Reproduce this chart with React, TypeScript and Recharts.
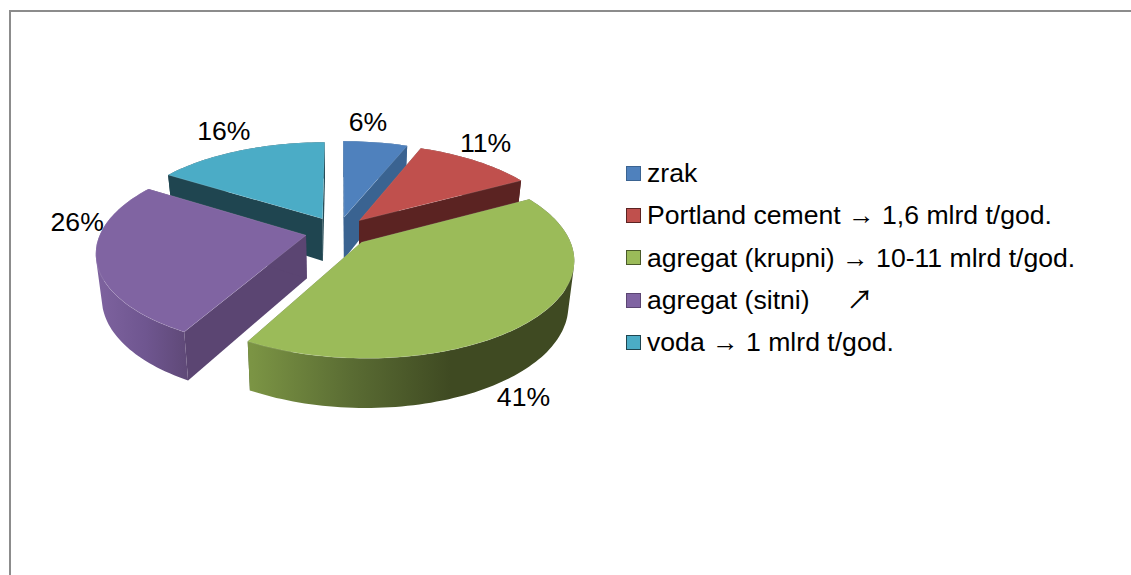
import { PieChart, Pie, Legend } from 'recharts'

const categories = [
  'zrak',
  'Portland cement → 1,6 mlrd t/god.',
  'agregat (krupni) → 10-11 mlrd t/god.',
  'agregat (sitni)     ↗',
  'voda → 1 mlrd t/god.',
]
const shares = [6, 11, 41, 26, 16]

const topColors = ['#4F81BD', '#C0504D', '#9BBB59', '#8064A2', '#4BACC6']
const wallColors = ['#3A6391', '#5B2322', '#4A5A2A', '#5B4572', '#1F4550']
const rimStops = [
  ['#3A6391', '#3A6391', '#3A6391'],
  ['#5B2322', '#5B2322', '#5B2322'],
  ['#7B9444', '#5A6C33', '#3F4A22'],
  ['#7D629E', '#6F5690', '#5E4876'],
  ['#1F4550', '#1F4550', '#1F4550'],
]
const rimRanges = [
  [340, 410],
  [360, 520],
  [252, 450],
  [100, 190],
  [170, 325],
]
// nudge from the rim midpoint to the label centre
const labelNudges = [
  [-7.5, -20],
  [10, -18],
  [-9, 77],
  [-19, -38],
  [-16, -20],
]
// slices painted last so they sit over the walls of the others
const backSlices = [0, 1, 4]
const frontSlices = [2, 3]

const chartData = categories.map((name, i) => ({ name, value: shares[i] }))

const PERSPECTIVE = 0.165
const SQUASH = 93
const EXPLODE = 0.16
const BOTTOM_SHRINK = 0.975

type Pt = [number, number]

function project(cx: number, cy: number, rx: number, u: number, v: number): Pt {
  const w = 1 + PERSPECTIVE * v
  return [cx + (rx * u) / w, cy - (SQUASH * v) / w]
}

function depthAt(v: number) {
  return 43 - 6 * v
}

function lower(cx: number, cy: number, rx: number, u: number, v: number): Pt {
  const [x, y] = project(cx, cy, rx, u, v)
  return [cx + (x - cx) * BOTTOM_SHRINK, y + depthAt(v)]
}

function toPath(points: Pt[]) {
  return 'M' + points.map((p) => `${p[0].toFixed(1)},${p[1].toFixed(1)}`).join('L') + 'Z'
}

// rim as one path of same-winding quads, so the side silhouette has no notch
function rimPath(topArc: Pt[], lowArc: Pt[]) {
  let d = ''
  for (let i = 0; i < topArc.length - 1; i++) {
    const quad: Pt[] = [topArc[i], topArc[i + 1], lowArc[i + 1], lowArc[i]]
    let area = 0
    quad.forEach((p, j) => {
      const q = quad[(j + 1) % 4]
      area += p[0] * q[1] - q[0] * p[1]
    })
    d += toPath(area < 0 ? [...quad].reverse() : quad)
  }
  return d
}

function renderSlice(props: any, allowed: number[]) {
  const idx = categories.indexOf(props.name)
  if (!allowed.includes(idx)) return <g />
  const { cx, cy, outerRadius: rx } = props
  // recharts angles run from 3 o'clock, the projection wants clock angles
  const from = ((90 - props.startAngle) * Math.PI) / 180
  const to = ((90 - props.endAngle) * Math.PI) / 180
  const mid = (from + to) / 2
  const ox = EXPLODE * Math.sin(mid)
  const oy = EXPLODE * Math.cos(mid)

  const steps = Math.max(8, Math.round((to - from) * 40))
  const arc: Pt[] = []
  for (let s = 0; s <= steps; s++) {
    const a = from + ((to - from) * s) / steps
    arc.push([ox + Math.sin(a), oy + Math.cos(a)])
  }
  const topArc = arc.map((p) => project(cx, cy, rx, p[0], p[1]))
  const lowArc = arc.map((p) => lower(cx, cy, rx, p[0], p[1]))
  const apexTop = project(cx, cy, rx, ox, oy)
  const apexLow = lower(cx, cy, rx, ox, oy)
  const last = topArc.length - 1
  const gradId = `rim-${idx}`
  const [x1, x2] = rimRanges[idx]
  const stops = rimStops[idx]

  return (
    <g>
      <linearGradient id={gradId} gradientUnits="userSpaceOnUse" x1={x1} x2={x2} y1={0} y2={0}>
        <stop offset="0%" stopColor={stops[0]} />
        <stop offset="50%" stopColor={stops[1]} />
        <stop offset="100%" stopColor={stops[2]} />
      </linearGradient>
      <path d={toPath([apexTop, topArc[0], lowArc[0], apexLow])} fill={wallColors[idx]} />
      <path d={toPath([apexTop, topArc[last], lowArc[last], apexLow])} fill={wallColors[idx]} />
      <path d={rimPath(topArc, lowArc)} fill={`url(#${gradId})`} />
      <path
        d={toPath([apexTop, ...topArc])}
        fill={topColors[idx]}
        stroke="#ffffff"
        strokeOpacity={0.12}
        strokeWidth={1}
      />
    </g>
  )
}

function renderLabel(props: any) {
  const idx = categories.indexOf(props.name)
  const { cx, cy, outerRadius: rx, midAngle, value } = props
  const a = ((90 - midAngle) * Math.PI) / 180
  const r = 1 + EXPLODE
  const [x, y] = project(cx, cy, rx, r * Math.sin(a), r * Math.cos(a))
  return (
    <text
      x={x + labelNudges[idx][0]}
      y={y + labelNudges[idx][1]}
      textAnchor="middle"
      dominantBaseline="central"
      fontSize={26.6}
      fill="#000000"
    >
      {value}%
    </text>
  )
}

function LegendList() {
  return (
    <div>
      {categories.map((name, i) => (
        <div key={name} style={{ height: 42.3, display: 'flex', alignItems: 'center', whiteSpace: 'pre' }}>
          <span
            style={{
              width: 13,
              height: 13,
              marginRight: 6,
              background: topColors[i],
              border: `1px solid ${wallColors[i]}`,
              flex: 'none',
            }}
          />
          <span style={{ fontSize: 26.6, lineHeight: '30px', height: 30, overflow: 'visible', color: '#000000' }}>
            {name}
          </span>
        </div>
      ))}
    </div>
  )
}

export default function App() {
  return (
    <div
      style={{
        position: 'absolute',
        left: 0,
        top: 0,
        width: 1131,
        height: 575,
        overflow: 'hidden',
        background: '#ffffff',
        fontFamily: '"Liberation Sans", "Noto Sans CJK JP", Arial, sans-serif',
      }}
    >
      <div
        style={{
          position: 'absolute',
          left: 9,
          top: 10,
          width: 1130,
          height: 570,
          borderTop: '2px solid #8c8c8c',
          borderLeft: '2px solid #8c8c8c',
        }}
      />
      <PieChart width={1131} height={575} margin={{ top: 0, right: 0, bottom: 0, left: 0 }}>
        <Pie
          data={chartData}
          dataKey="value"
          nameKey="name"
          cx={338}
          cy={231.5}
          outerRadius={205}
          startAngle={90}
          endAngle={-270}
          stroke="none"
          isAnimationActive={false}
          labelLine={false}
          shape={(p: any) => renderSlice(p, backSlices)}
        />
        <Pie
          data={chartData}
          dataKey="value"
          nameKey="name"
          cx={338}
          cy={231.5}
          outerRadius={205}
          startAngle={90}
          endAngle={-270}
          stroke="none"
          isAnimationActive={false}
          labelLine={false}
          label={renderLabel}
          shape={(p: any) => renderSlice(p, frontSlices)}
        />
        <Legend
          content={() => <LegendList />}
          wrapperStyle={{ left: 626, top: 152, width: 500, bottom: 'auto', right: 'auto' }}
        />
      </PieChart>
    </div>
  )
}
